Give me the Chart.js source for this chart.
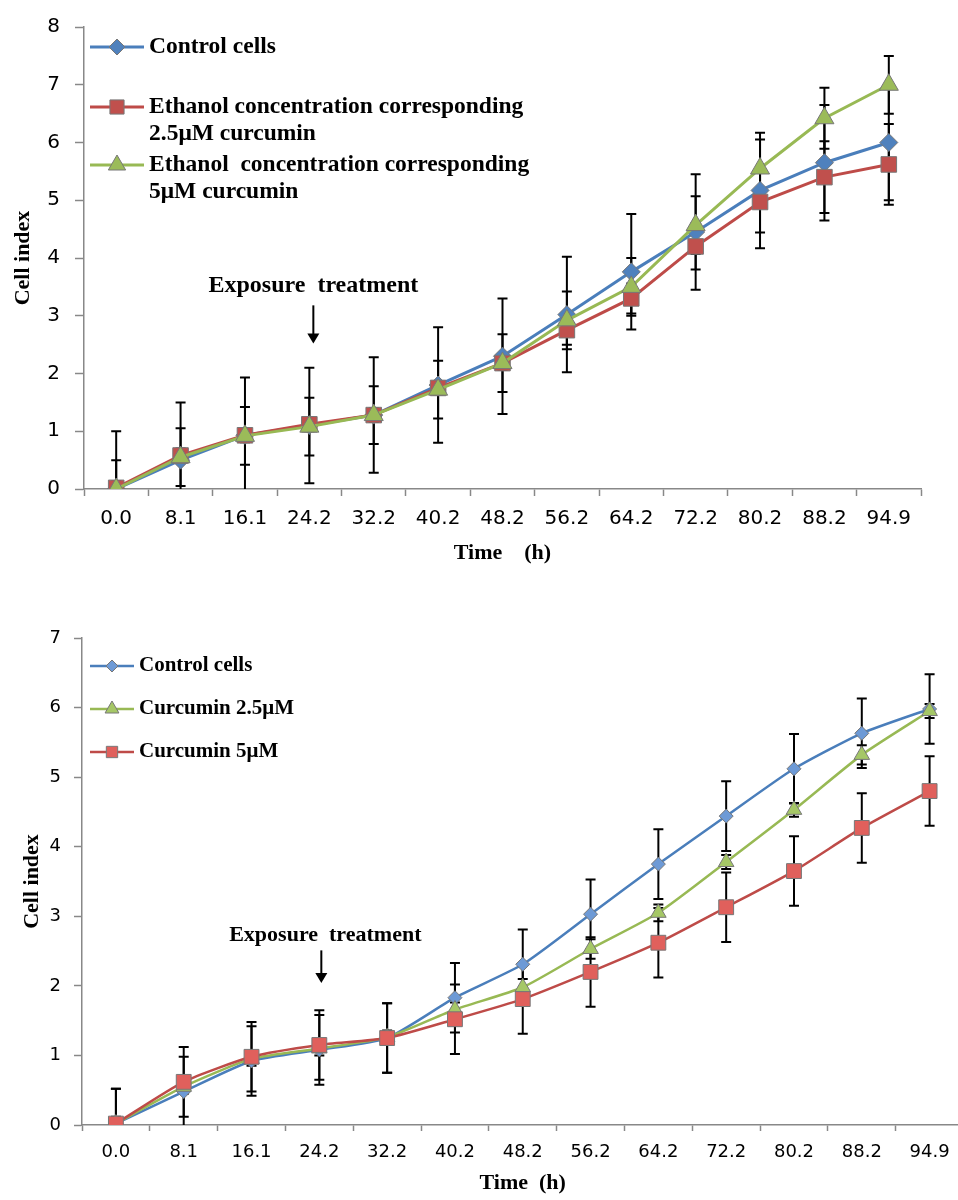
<!DOCTYPE html>
<html>
<head>
<meta charset="utf-8">
<script src="https://cdn.jsdelivr.net/npm/chart.js@4.4.1/dist/chart.umd.min.js"></script>
<style>
  body { margin: 0; background: #fff; overflow: hidden; width: 958px; height: 1200px; position: relative; }
  #top { position: absolute; left: 0; top: 0; width: 958px; height: 600px; }
  #bottom { position: absolute; left: 0; top: 600px; width: 975px; height: 600px; }
</style>
</head>
<body>
<div id="top"><canvas id="chartTop"></canvas></div>
<div id="bottom"><canvas id="chartBottom"></canvas></div>
<script>
// tempos (h)
const timeLabels = ['0.0', '8.1', '16.1', '24.2', '32.2', '40.2', '48.2', '56.2', '64.2', '72.2', '80.2', '88.2', '94.9'];

// grafico de cima - etanol
const controlTop = [0.0, 0.5, 0.93, 1.1, 1.28, 1.8, 2.3, 3.02, 3.76, 4.45, 5.17, 5.65, 6.0];
const controlTopErr = [1.0, 1.0, 1.0, 1.0, 1.0, 1.0, 1.0, 1.0, 1.0, 1.0, 1.0, 1.0, 1.0];
const ethanol25 = [0.02, 0.58, 0.93, 1.12, 1.28, 1.75, 2.18, 2.75, 3.3, 4.2, 4.97, 5.4, 5.62];
const ethanol25Err = [0.12, 0.12, 0.12, 0.12, 0.12, 0.12, 0.12, 0.25, 0.26, 0.4, 0.53, 0.62, 0.7];
const ethanol5 = [0.0, 0.55, 0.92, 1.08, 1.28, 1.72, 2.18, 2.92, 3.5, 4.57, 5.55, 6.42, 7.0];
const ethanol5Err = [0.5, 0.5, 0.5, 0.5, 0.5, 0.5, 0.5, 0.5, 0.5, 0.5, 0.5, 0.53, 0.5];
const yTicksTop = [0, 1, 2, 3, 4, 5, 6, 7, 8];

// grafico de baixo - curcumina
const controlBottom = [0.02, 0.48, 0.92, 1.08, 1.25, 1.83, 2.31, 3.03, 3.75, 4.44, 5.12, 5.63, 5.98];
const controlBottomErr = [0.5, 0.5, 0.5, 0.5, 0.5, 0.5, 0.5, 0.5, 0.5, 0.5, 0.5, 0.5, 0.5];
const curcumin25 = [0.02, 0.55, 0.95, 1.1, 1.26, 1.66, 1.98, 2.53, 3.05, 3.78, 4.53, 5.32, 5.95];
const curcumin25Err = [0.1, 0.1, 0.1, 0.1, 0.1, 0.1, 0.12, 0.14, 0.12, 0.1, 0.1, 0.14, 0.1];
const curcumin5 = [0.02, 0.62, 0.98, 1.15, 1.25, 1.52, 1.81, 2.2, 2.62, 3.13, 3.65, 4.27, 4.8];
const curcumin5Err = [0.5, 0.5, 0.5, 0.5, 0.5, 0.5, 0.5, 0.5, 0.5, 0.5, 0.5, 0.5, 0.5];
const yTicksBottom = [0, 1, 2, 3, 4, 5, 6, 7];

const legendTop = [
    ['Control cells'],
    ['Ethanol concentration corresponding', '2.5\u03bcM curcumin'],
    ['Ethanol  concentration corresponding', '5\u03bcM curcumin']
];
const legendBottom = [['Control cells'], ['Curcumin 2.5\u03bcM'], ['Curcumin 5\u03bcM']];

const BLUE = '#4a7ebb', RED = '#be4b48', GREEN = '#98b954';
const serif = "'Liberation Serif', 'Times New Roman', serif";
const sans = "'DejaVu Sans', sans-serif";

// desenha um marcador simples (losango, quadrado, triangulo)
function drawMarker(ctx, style, x, y, r, fill, stroke) {
    ctx.save();
    ctx.fillStyle = fill;
    ctx.strokeStyle = stroke;
    ctx.lineWidth = 1;
    ctx.beginPath();
    if (style === 'rectRot') {
        ctx.moveTo(x - r, y); ctx.lineTo(x, y - r); ctx.lineTo(x + r, y); ctx.lineTo(x, y + r);
    } else if (style === 'rect') {
        const s = r * Math.SQRT1_2;
        ctx.rect(x - s, y - s, 2 * s, 2 * s);
    } else {
        ctx.moveTo(x, y - r);
        ctx.lineTo(x + r * Math.sin(2 * Math.PI / 3), y - r * Math.cos(2 * Math.PI / 3));
        ctx.lineTo(x + r * Math.sin(4 * Math.PI / 3), y - r * Math.cos(4 * Math.PI / 3));
    }
    ctx.closePath();
    ctx.fill();
    ctx.stroke();
    ctx.restore();
}

// barras de erro desenhadas atras dos marcadores
const errorBarsPlugin = {
    id: 'errorBars',
    beforeDatasetsDraw(chart, args, opts) {
        const { ctx, chartArea } = chart;
        const y = chart.scales.y;
        ctx.save();
        ctx.beginPath();
        ctx.rect(chartArea.left, 0, chartArea.right - chartArea.left, chartArea.bottom);
        ctx.clip();
        ctx.strokeStyle = '#000';
        ctx.lineWidth = opts.lineWidth;
        chart.data.datasets.forEach((ds, di) => {
            const meta = chart.getDatasetMeta(di);
            ds.errors.forEach((e, i) => {
                const v = ds.data[i];
                const x = meta.data[i].x;
                const hi = y.getPixelForValue(v + e);
                const lo = y.getPixelForValue(v - e);
                ctx.beginPath();
                ctx.moveTo(x, hi); ctx.lineTo(x, lo);
                ctx.moveTo(x - opts.cap, hi); ctx.lineTo(x + opts.cap, hi);
                ctx.moveTo(x - opts.cap, lo); ctx.lineTo(x + opts.cap, lo);
                ctx.stroke();
            });
        });
        ctx.restore();
    }
};

// legenda e seta de "Exposure treatment"
const annotationPlugin = {
    id: 'annot',
    afterDraw(chart, args, opts) {
        const { ctx } = chart;
        const x = chart.scales.x, y = chart.scales.y;
        ctx.save();
        // legenda
        ctx.font = 'bold ' + opts.legendFont + 'px ' + serif;
        ctx.textBaseline = 'middle';
        ctx.fillStyle = '#000';
        opts.legend.forEach((lines, k) => {
            const ds = chart.data.datasets[opts.legendOrder[k]];
            const ly = opts.legendY[k];
            ctx.strokeStyle = ds.borderColor;
            ctx.lineWidth = ds.borderWidth;
            ctx.beginPath();
            ctx.moveTo(opts.legendX, ly); ctx.lineTo(opts.legendX + opts.legendLen, ly);
            ctx.stroke();
            drawMarker(ctx, ds.pointStyle, opts.legendX + opts.legendLen / 2, ly, opts.legendMarker[k], ds.pointBackgroundColor, ds.pointBorderColor);
            lines.forEach((t, j) => {
                ctx.fillText(t, opts.legendX + opts.legendLen + 5, ly + j * opts.legendLine);
            });
        });
        // texto e seta
        const ax = x.getPixelForValue(opts.arrowIndex) + opts.arrowShift;
        ctx.font = 'bold ' + opts.noteFont + 'px ' + serif;
        ctx.textAlign = 'center';
        ctx.fillText(opts.note, ax + opts.noteShift, y.getPixelForValue(opts.noteY));
        const y0 = y.getPixelForValue(opts.arrowFrom), y1 = y.getPixelForValue(opts.arrowTo);
        ctx.strokeStyle = '#000';
        ctx.lineWidth = 2;
        ctx.beginPath();
        ctx.moveTo(ax, y0); ctx.lineTo(ax, y1 - 8);
        ctx.stroke();
        ctx.beginPath();
        ctx.moveTo(ax - 6, y1 - 10); ctx.lineTo(ax + 6, y1 - 10); ctx.lineTo(ax, y1);
        ctx.closePath();
        ctx.fill();
        ctx.restore();
    }
};

function makeDataset(label, data, errors, color, fill, style, radius, width, order) {
    return {
        label: label,
        data: data,
        errors: errors,
        borderColor: color,
        borderWidth: width,
        pointStyle: style,
        pointRadius: radius,
        pointBackgroundColor: fill,
        pointBorderColor: '#777',
        pointBorderWidth: 1,
        order: order
    };
}

function makeScales(cfg) {
    return {
        x: {
            type: 'category',
            offset: true,
            grid: { display: true, drawOnChartArea: false, offset: true, color: '#888', tickLength: cfg.xTick, tickWidth: 1.5 },
            border: { color: '#888', width: 1.5 },
            ticks: { color: '#000', font: { family: sans, size: cfg.tickFont }, padding: cfg.xPad, maxRotation: 0, autoSkip: false },
            title: { display: true, text: cfg.xTitle, color: '#000', font: { family: serif, size: 22, weight: 'bold' }, padding: { top: 0, bottom: cfg.xTitlePad } },
            afterFit(scale) { scale.height = cfg.xHeight; }
        },
        y: {
            min: 0,
            max: cfg.yMax,
            afterBuildTicks(scale) { scale.ticks = cfg.yTicks.map(v => ({ value: v })); },
            grid: { display: true, drawOnChartArea: false, color: '#888', tickLength: cfg.yTick, tickWidth: 1.5 },
            border: { color: '#888', width: 1.5 },
            ticks: { color: '#000', font: { family: sans, size: cfg.tickFont }, padding: cfg.yPad },
            title: { display: true, text: 'Cell index', color: '#000', font: { family: serif, size: 22, weight: 'bold' }, padding: { top: cfg.yTitlePad, bottom: 0 } },
            afterFit(scale) { scale.width = cfg.yWidth; }
        }
    };
}

const chartTop = new Chart(document.getElementById('chartTop'), {
    type: 'line',
    data: {
        labels: timeLabels,
        datasets: [
            makeDataset('Control cells', controlTop, controlTopErr, BLUE, '#4f81bd', 'rectRot', 9, 3, 3),
            makeDataset('Ethanol concentration corresponding 2.5\u03bcM curcumin', ethanol25, ethanol25Err, RED, '#c0504d', 'rect', 11, 3, 2),
            makeDataset('Ethanol concentration corresponding 5\u03bcM curcumin', ethanol5, ethanol5Err, GREEN, '#9bbb59', 'triangle', 11, 3, 1)
        ]
    },
    options: {
        responsive: true,
        maintainAspectRatio: false,
        animation: false,
        layout: { padding: { top: 23, right: 37, left: 0, bottom: 0 } },
        elements: { line: { tension: 0 } },
        scales: makeScales({ xTitle: 'Time    (h)', yMax: 8, yTicks: yTicksTop, tickFont: 20, xTick: 7, yTick: 9, xPad: 11, yPad: 15, xHeight: 111, yWidth: 84, xTitlePad: 33, yTitlePad: 10 }),
        plugins: {
            legend: { display: false },
            tooltip: { enabled: false },
            errorBars: { lineWidth: 2, cap: 5 },
            annot: {
                legend: legendTop, legendOrder: [0, 1, 2],
                legendX: 90, legendLen: 54, legendY: [47, 107, 165], legendLine: 27, legendMarker: [8, 10, 10], legendFont: 23.5,
                note: 'Exposure  treatment', noteFont: 24, noteY: 3.52, noteShift: 0,
                arrowIndex: 3, arrowShift: 4, arrowFrom: 3.18, arrowTo: 2.52
            }
        }
    },
    plugins: [errorBarsPlugin, annotationPlugin]
});

const chartBottom = new Chart(document.getElementById('chartBottom'), {
    type: 'line',
    data: {
        labels: timeLabels,
        datasets: [
            makeDataset('Control cells', controlBottom, controlBottomErr, BLUE, '#6d9ad6', 'rectRot', 7, 2.5, 3),
            makeDataset('Curcumin 2.5\u03bcM', curcumin25, curcumin25Err, GREEN, '#a5c766', 'triangle', 9, 2.5, 2),
            makeDataset('Curcumin 5\u03bcM', curcumin5, curcumin5Err, RED, '#e0605c', 'rect', 10.5, 2.5, 1)
        ]
    },
    options: {
        responsive: true,
        maintainAspectRatio: false,
        animation: false,
        layout: { padding: { top: 38, right: 6, left: 0, bottom: 0 } },
        elements: { line: { tension: 0.2 } },
        scales: makeScales({ xTitle: 'Time  (h)', yMax: 7, yTicks: yTicksBottom, tickFont: 18, xTick: 6, yTick: 8, xPad: 11, yPad: 13, xHeight: 75, yWidth: 82, xTitlePad: 3, yTitlePad: 19 }),
        plugins: {
            legend: { display: false },
            tooltip: { enabled: false },
            errorBars: { lineWidth: 2, cap: 5 },
            annot: {
                legend: legendBottom, legendOrder: [0, 1, 2],
                legendX: 90, legendLen: 44, legendY: [66, 109, 152], legendLine: 24, legendMarker: [6, 8, 8], legendFont: 21,
                note: 'Exposure  treatment', noteFont: 22, noteY: 2.73, noteShift: 4,
                arrowIndex: 3, arrowShift: 2, arrowFrom: 2.51, arrowTo: 2.04
            }
        }
    },
    plugins: [errorBarsPlugin, annotationPlugin]
});
</script>
</body>
</html>
